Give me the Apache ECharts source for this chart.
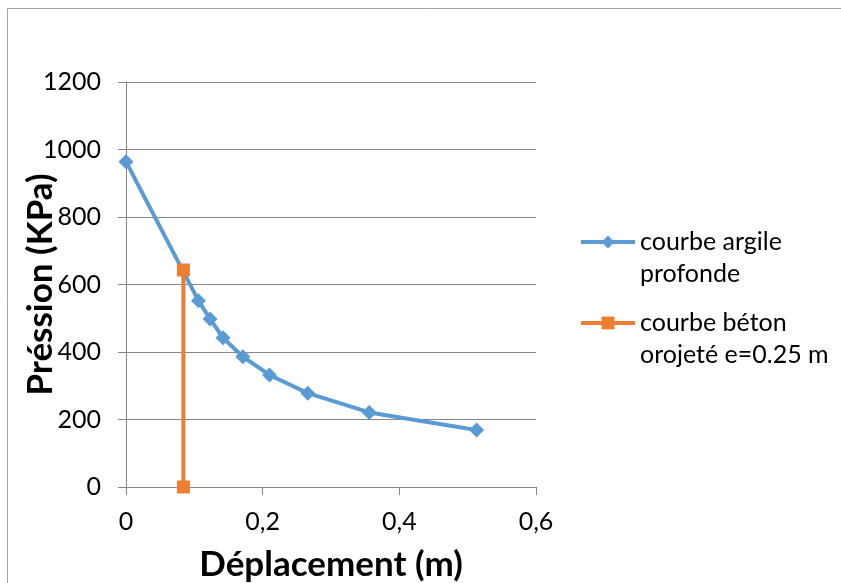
<!DOCTYPE html>
<html>
<head>
<meta charset="utf-8">
<script src="https://cdn.jsdelivr.net/npm/echarts@6/dist/echarts.min.js"></script>
<style>
html,body{margin:0;padding:0;background:#fff;}
#c{width:841px;height:583px;}
</style>
</head>
<body>
<div id="c"></div>
<script>
// Data
var argileX = [0, 0.106, 0.123, 0.142, 0.171, 0.210, 0.266, 0.356, 0.513];
var argileY = [964, 552, 498, 442, 386, 332, 278, 221, 169];
var betonX = [0.084, 0.084];
var betonY = [0, 643];
var seriesNames = ['courbe argile\nprofonde', 'courbe béton\norojeté e=0.25 m'];
var xTicks = [0, 0.2, 0.4, 0.6];
var yTicks = [0, 200, 400, 600, 800, 1000, 1200];
var xTitle = 'Déplacement (m)';
var yTitle = 'Préssion (KPa)';

function pairs(xs, ys){ return xs.map(function(x,i){ return [x, ys[i]]; }); }

var FONT = 'Lato';
var LH = 32;
var chart = echarts.init(document.getElementById('c'), null, {renderer:'canvas'});
var legendBase = {
  orient: 'vertical', left: 579, padding: 0,
  itemWidth: 54, itemHeight: 16, itemGap: 4,
  lineStyle: {width: 4},
  formatter: function(n){ return ' \n' + n; },
  textStyle: {fontFamily: FONT, fontSize: 25, color: '#000', lineHeight: LH}
};
chart.setOption({
  animation: false,
  backgroundColor: '#fff',
  graphic: [{
    type: 'rect', shape: {x: 7.5, y: 8.5, width: 1000, height: 1000},
    style: {fill: 'none', stroke: '#a6a6a6', lineWidth: 1}, silent: true, z: -1
  }],
  grid: {left: 126, right: 305, top: 82, bottom: 96, containLabel: false, outerBoundsMode: 'none'},
  legend: [
    Object.assign({}, legendBase, {top: 194, data: [seriesNames[0]]}),
    Object.assign({}, legendBase, {top: 275, data: [seriesNames[1]]})
  ],
  xAxis: {
    type: 'value', min: xTicks[0], max: xTicks[xTicks.length-1], interval: 0.2,
    name: xTitle, nameLocation: 'middle', nameGap: 60,
    nameTextStyle: {fontFamily: FONT, fontWeight: 'bold', fontSize: 35, color: '#000'},
    axisLine: {show: true, lineStyle: {color: '#868686', width: 1}},
    axisTick: {show: true, length: 8, lineStyle: {color: '#868686'}},
    axisLabel: {fontFamily: FONT, fontSize: 25, color: '#000', margin: 22,
      formatter: function(v){ return String(+v.toFixed(1)).replace('.', ','); }},
    splitLine: {show: false}
  },
  yAxis: {
    type: 'value', min: yTicks[0], max: yTicks[yTicks.length-1], interval: 200,
    name: yTitle, nameLocation: 'middle', nameGap: 68, nameRotate: 90, nameMoveOverlap: false,
    nameTextStyle: {fontFamily: FONT, fontWeight: 'bold', fontSize: 35, color: '#000'},
    axisLine: {show: true, lineStyle: {color: '#868686', width: 1}},
    axisTick: {show: true, length: 8, lineStyle: {color: '#868686'}},
    axisLabel: {fontFamily: FONT, fontSize: 25, color: '#000', margin: 25,
      formatter: function(v){ return String(v); }},
    splitLine: {show: true, lineStyle: {color: '#868686', width: 1}}
  },
  series: [
    {
      name: seriesNames[0], type: 'line', data: pairs(argileX, argileY),
      symbol: 'diamond', symbolSize: 15, smooth: false,
      lineStyle: {color: '#5b9bd5', width: 4},
      itemStyle: {color: '#5b9bd5'}
    },
    {
      name: seriesNames[1], type: 'line', data: pairs(betonX, betonY),
      symbol: 'rect', symbolSize: 13,
      lineStyle: {color: '#ed7d31', width: 4},
      itemStyle: {color: '#ed7d31'}
    }
  ]
});
</script>
</body>
</html>
